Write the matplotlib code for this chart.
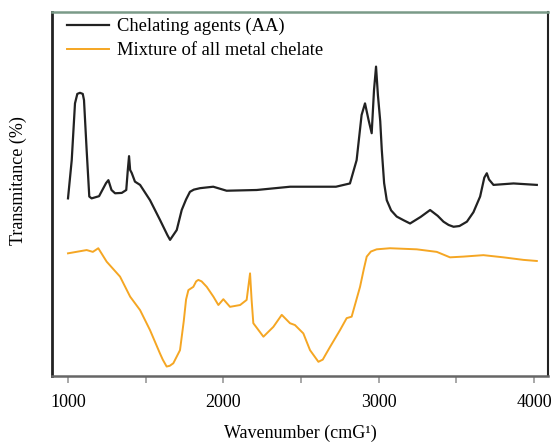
import matplotlib
matplotlib.use("Agg")
import matplotlib.pyplot as plt

# Chelating agents (AA) spectrum: wavenumber (cm-1) and transmittance (%)
aa_wn = [1000, 1024, 1045, 1060, 1077, 1095, 1103, 1120, 1137, 1152, 1200, 1245, 1260,
         1280, 1303, 1346, 1375, 1385, 1393, 1400, 1410, 1431, 1464, 1528, 1592, 1640,
         1657, 1700, 1732, 1760, 1785, 1810, 1850, 1935, 2021, 2215, 2430, 2725, 2815,
         2858, 2890, 2912, 2935, 2955, 2970, 2983, 2995, 3010, 3020, 3035, 3052, 3080,
         3116, 3160, 3202, 3270, 3331, 3380, 3417, 3450, 3482, 3520, 3568, 3610, 3653,
         3680, 3696, 3710, 3739, 3868, 4018]
aa_t = [48.8, 59.3, 74.9, 77.5, 77.8, 77.5, 75.8, 62.1, 49.3, 48.8, 49.4, 53.0, 53.8,
        51.1, 50.2, 50.3, 51.1, 56.6, 60.4, 56.6, 55.8, 53.4, 52.5, 48.3, 42.9, 38.7,
        37.4, 40.1, 45.6, 48.5, 50.6, 51.2, 51.6, 52.0, 50.9, 51.1, 52.0, 52.0, 52.9,
        59.3, 71.7, 74.9, 70.3, 66.7, 78.6, 85.0, 77.2, 70.0, 62.1, 53.0, 48.3, 45.5,
        43.8, 42.8, 41.9, 43.7, 45.6, 44.0, 42.4, 41.5, 41.0, 41.2, 42.4, 45.0, 49.3,
        54.5, 55.7, 54.0, 52.5, 52.9, 52.5]

# Mixture of all metal chelate spectrum
mix_wn = [1000, 1120, 1160, 1195, 1249, 1335, 1400, 1464, 1528, 1592, 1610, 1635, 1655,
          1678, 1721, 1745, 1760, 1775, 1807, 1825, 1839, 1860, 1893, 1936, 1968, 2000,
          2043, 2108, 2150, 2172, 2182, 2193, 2258, 2322, 2376, 2429, 2461, 2515, 2558,
          2612, 2640, 2660, 2687, 2751, 2794, 2826, 2880, 2905, 2923, 2950, 2987, 3073,
          3245, 3374, 3459, 3545, 3674, 3803, 3932, 4018]
mix_t = [33.7, 34.6, 34.1, 35.1, 31.4, 27.3, 21.8, 18.1, 12.6, 6.2, 4.5, 2.6, 2.8,
         3.5, 7.1, 15.0, 21.0, 23.6, 24.5, 26.0, 26.4, 26.0, 24.5, 21.8, 19.5, 21.1,
         19.0, 19.5, 20.9, 28.2, 20.9, 14.5, 10.8, 13.5, 16.8, 14.5, 14.0, 11.7, 7.1,
         3.9, 4.5, 6.0, 8.0, 12.6, 15.9, 16.3, 24.5, 29.5, 32.8, 34.2, 34.8, 35.1,
         34.8, 34.1, 32.6, 32.8, 33.2, 32.6, 31.9, 31.6]

x_ticks = [1000, 1500, 2000, 2500, 3000, 3500, 4000]
x_tick_labels = ["1000", "", "2000", "", "3000", "", "4000"]

plt.rcParams['font.family'] = ['Liberation Serif', 'DejaVu Serif']

fig = plt.figure(figsize=(5.57, 4.44), dpi=100)
ax = fig.add_axes([52/557, 1-376/444, (548-52)/557, (376-12)/444])

ax.plot(aa_wn, aa_t, color='#222222', lw=1.6, label='Chelating agents (AA)')
ax.plot(mix_wn, mix_t, color='#f5a623', lw=1.4, label='Mixture of all metal chelate')

ax.set_xlim(897, 4090)
ax.set_ylim(0, 100)
ax.set_xticks(x_ticks)
ax.set_xticklabels(x_tick_labels, fontsize=13)
ax.set_yticks([])
ax.tick_params(axis='x', direction='out', length=5, width=1.2, color='#999999', pad=8)

ax.spines['left'].set_color('#222222')
ax.spines['left'].set_linewidth(2.0)
ax.spines['right'].set_color('#222222')
ax.spines['right'].set_linewidth(1.5)
ax.spines['top'].set_color('#7a9a88')
ax.spines['top'].set_linewidth(1.8)
ax.spines['bottom'].set_color('#666666')
ax.spines['bottom'].set_linewidth(1.8)

ax.set_xlabel('Wavenumber (cmG¹)', fontsize=13)
ax.xaxis.set_label_coords(0.5, -(433 - 376) / 364, transform=ax.transAxes)
ax.xaxis.label.set_va('center')
ax.set_ylabel('Transmitance (%)', fontsize=13)
ax.yaxis.set_label_coords((18 - 52) / 496, (376 - 181) / 364, transform=ax.transAxes)
ax.yaxis.label.set_va('center')

ax.legend(loc='upper left', bbox_to_anchor=(67/557, 1-18/444), bbox_transform=fig.transFigure,
          frameon=False, fontsize=13.3, handlelength=2.3, handletextpad=0.4,
          borderaxespad=0, borderpad=0, labelspacing=0.38)

fig.savefig('out.png', dpi=100)
